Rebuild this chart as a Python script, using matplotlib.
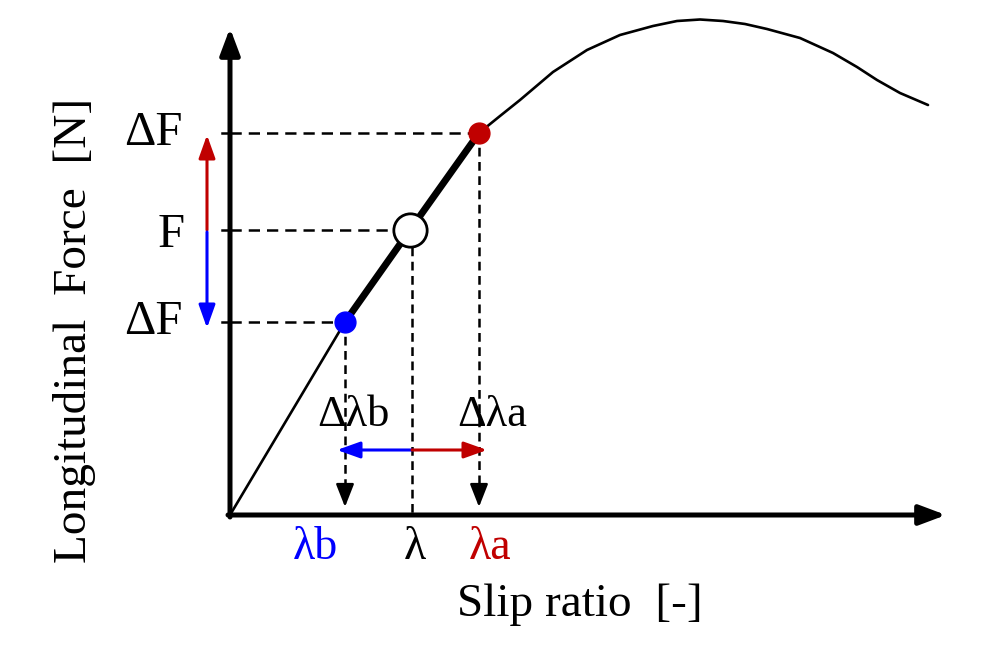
import matplotlib.pyplot as plt

plt.rcParams['font.family'] = ['Liberation Serif', 'DejaVu Serif']

# force vs slip curve (schematic units, origin at axis corner)
slip = [0, 115, 180, 249, 270, 290, 323, 357, 390, 423, 447, 470, 493, 515,
        537, 570, 603, 627, 647, 670, 698]
force = [0, 193, 285, 382, 399, 415, 443, 465, 480, 489, 494, 495.5, 494, 491,
         486, 477, 462, 448, 435, 422, 410]

# operating points
lam_b, F_b = 115, 193
lam_0, F_0 = 180, 285
lam_a, F_a = 249, 382

red = '#c00000'
blue = '#0000ff'

fig = plt.figure(figsize=(10, 6.5), dpi=100)
ax = fig.add_axes([0, 0, 1, 1])
ax.set_xlim(-230, 770)
ax.set_ylim(-135, 515)
ax.axis('off')

# axes with arrows
ax.annotate('', xy=(0, 487), xytext=(0, -2),
            arrowprops=dict(arrowstyle='-|>,head_length=1.6,head_width=0.6',
                            lw=3.6, color='k', shrinkA=0, shrinkB=0))
ax.annotate('', xy=(716, 0), xytext=(-2, 0),
            arrowprops=dict(arrowstyle='-|>,head_length=1.6,head_width=0.6',
                            lw=3.6, color='k', shrinkA=0, shrinkB=0))

# curve + thick linear part
ax.plot(slip, force, color='k', lw=1.9, solid_capstyle='round',
        solid_joinstyle='round')
ax.plot([lam_b, lam_0, lam_a], [F_b, F_0, F_a], color='k', lw=5,
        solid_capstyle='round')

# horizontal dashed guides + ticks
for fx, fy in [(lam_a, F_a), (lam_0 - 10, F_0), (lam_b, F_b)]:
    ax.plot([0, fx], [fy, fy], color='k', lw=1.8, dashes=(4.5, 2.8))
    ax.plot([-8, 0], [fy, fy], color='k', lw=1.8)

# vertical dashed guides
ax.plot([lam_0 + 2, lam_0 + 2], [268, 0], color='k', lw=1.8, dashes=(3.5, 2.2))
for lx, ly in [(lam_b, F_b), (lam_a, F_a)]:
    ax.plot([lx, lx], [ly, 25], color='k', lw=1.8, dashes=(3.5, 2.2))
    ax.annotate('', xy=(lx, 8), xytext=(lx, 30),
                arrowprops=dict(arrowstyle='-|>,head_length=1.4,head_width=0.55',
                                lw=1.8, color='k', shrinkA=0, shrinkB=0))

# markers
ax.plot(lam_b, F_b, 'o', ms=15, color=blue, zorder=5)
ax.plot(lam_a, F_a, 'o', ms=15, color=red, zorder=5)
ax.plot(lam_0, F_0, 'o', ms=24, mfc='white', mec='k', mew=2, zorder=5)

# force variation arrows
ax.annotate('', xy=(-23, 380), xytext=(-23, 285),
            arrowprops=dict(arrowstyle='-|>,head_length=1.4,head_width=0.5',
                            lw=2.2, color=red, shrinkA=0, shrinkB=0))
ax.annotate('', xy=(-23, 187), xytext=(-23, 283),
            arrowprops=dict(arrowstyle='-|>,head_length=1.4,head_width=0.5',
                            lw=2.2, color=blue, shrinkA=0, shrinkB=0))

# slip variation arrows
ax.annotate('', xy=(107, 65), xytext=(182, 65),
            arrowprops=dict(arrowstyle='-|>,head_length=1.4,head_width=0.5',
                            lw=2.2, color=blue, shrinkA=0, shrinkB=0))
ax.annotate('', xy=(257, 65), xytext=(182, 65),
            arrowprops=dict(arrowstyle='-|>,head_length=1.4,head_width=0.5',
                            lw=2.2, color=red, shrinkA=0, shrinkB=0))

# labels
fs = 35
ax.text(-47, F_a, 'ΔF', fontsize=fs, ha='right', va='center')
ax.text(-45, F_0 - 5, 'F', fontsize=fs, ha='right', va='center')
ax.text(-47, F_b, 'ΔF', fontsize=fs, ha='right', va='center')
ax.text(123, 100, 'Δλb', fontsize=32, ha='center', va='center')
ax.text(262, 100, 'Δλa', fontsize=32, ha='center', va='center')
ax.text(85, -33, 'λb', fontsize=33, color=blue, ha='center', va='center')
ax.text(185, -33, 'λ', fontsize=33, ha='center', va='center')
ax.text(260, -33, 'λa', fontsize=33, color=red, ha='center', va='center')
ax.text(350, -90, 'Slip ratio  [-]', fontsize=34, ha='center', va='center')
ax.text(-155, 185, 'Longitudinal  Force  [N]', fontsize=34, ha='center',
        va='center', rotation=90)

fig.savefig('out.png', dpi=100)
